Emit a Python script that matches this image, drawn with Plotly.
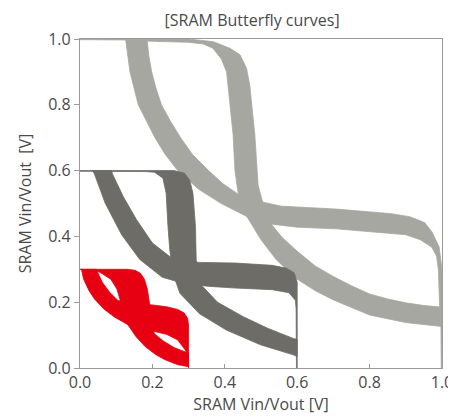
import plotly.graph_objects as go

# ---- data (Vin, Vout) ----
# Each supply voltage: envelope of the Monte-Carlo VTC band of one inverter
# (upper/outer edge and lower/inner edge).  The second inverter curve of the
# butterfly is the same band with Vin and Vout exchanged.

# 1.0 V supply (light grey)
v10_hi_x = [0.0, 0.30, 0.368, 0.414, 0.442, 0.460, 0.469, 0.474, 0.483, 0.492, 0.505, 0.515, 0.530,
            0.560, 0.600, 0.650, 0.700, 0.750, 0.800, 0.850, 0.900, 0.950, 1.0]
v10_hi_y = [1.0, 1.0, 0.992, 0.972, 0.952, 0.911, 0.860, 0.809, 0.708, 0.556, 0.500, 0.460, 0.435,
            0.395, 0.355, 0.310, 0.278, 0.250, 0.225, 0.210, 0.198, 0.190, 0.185]
v10_lo_x = [0.0, 0.13, 0.20, 0.30, 0.340, 0.367, 0.390, 0.405, 0.414, 0.423, 0.428, 0.437, 0.450,
            0.470, 0.500, 0.543, 0.600, 0.650, 0.700, 0.800, 0.900, 1.0]
v10_lo_y = [0.998, 0.997, 0.993, 0.990, 0.985, 0.972, 0.940, 0.900, 0.809, 0.708, 0.600, 0.531, 0.480,
            0.445, 0.390, 0.328, 0.270, 0.235, 0.207, 0.161, 0.138, 0.126]

# 0.6 V supply (dark grey)
v06_hi_x = [0.0, 0.26, 0.289, 0.303, 0.312, 0.319, 0.321, 0.325, 0.331, 0.380, 0.451, 0.520, 0.589, 0.600]
v06_hi_y = [0.6, 0.6, 0.592, 0.571, 0.531, 0.430, 0.330, 0.290, 0.257, 0.200, 0.156, 0.120, 0.090, 0.087]
v06_lo_x = [0.0, 0.18, 0.206, 0.229, 0.238, 0.243, 0.248, 0.256, 0.276, 0.330, 0.405, 0.500, 0.589, 0.600]
v06_lo_y = [0.598, 0.597, 0.595, 0.577, 0.531, 0.430, 0.359, 0.290, 0.227, 0.165, 0.115, 0.070, 0.040, 0.035]

# 0.3 V supply (red)
v03_hi_x = [0.0, 0.13, 0.152, 0.167, 0.178, 0.186, 0.191, 0.195, 0.199, 0.205, 0.230, 0.260, 0.285, 0.300]
v03_hi_y = [0.3, 0.3, 0.297, 0.288, 0.270, 0.240, 0.205, 0.170, 0.135, 0.105, 0.082, 0.062, 0.050, 0.045]
v03_lo_x = [0.0, 0.040, 0.056, 0.085, 0.102, 0.110, 0.118, 0.130, 0.155, 0.180, 0.210, 0.235, 0.270, 0.300]
v03_lo_y = [0.3, 0.298, 0.290, 0.270, 0.240, 0.210, 0.175, 0.135, 0.095, 0.065, 0.040, 0.025, 0.010, 0.004]

bands = [
    ("1.0 V", v10_hi_x, v10_hi_y, v10_lo_x, v10_lo_y, "#a7a7a2"),
    ("0.6 V", v06_hi_x, v06_hi_y, v06_lo_x, v06_lo_y, "#6d6c67"),
    ("0.3 V", v03_hi_x, v03_hi_y, v03_lo_x, v03_lo_y, "#e60012"),
]

tick_vals = [0.0, 0.2, 0.4, 0.6, 0.8, 1.0]
tick_text = ["0.0", "0.2", "0.4", "0.6", "0.8", "1.0"]

fig = go.Figure()
for name, hx, hy, lx, ly, col in bands:
    px = list(hx) + list(reversed(lx))
    py = list(hy) + list(reversed(ly))
    # inverter 1 : (Vin, Vout)
    fig.add_trace(go.Scatter(x=px, y=py, mode="lines", fill="toself", fillcolor=col,
                             line=dict(color=col, width=0.8), name=name, hoverinfo="skip"))
    # inverter 2 : mirrored (Vout, Vin)
    fig.add_trace(go.Scatter(x=py, y=px, mode="lines", fill="toself", fillcolor=col,
                             line=dict(color=col, width=0.8), name=name, hoverinfo="skip"))

font_family = "Open Sans, Noto Sans, sans-serif"
axis_col = "#9b9b9b"
text_col = "#4a4a4a"

# the page has an 8 px body margin, so the figure is 448 x 412
fig.update_layout(
    width=448, height=412,
    margin=dict(l=72, r=14, t=31, b=52, autoexpand=False),
    paper_bgcolor="white", plot_bgcolor="white",
    showlegend=False,
    font=dict(family=font_family, size=15, color=text_col),
    title=dict(text="[SRAM Butterfly curves]", x=0.545, xanchor="center",
               y=1 - 12 / 412, yanchor="middle", xref="container", yref="container",
               font=dict(family=font_family, size=16, color=text_col)),
    xaxis=dict(range=[0, 1], tickvals=tick_vals, ticktext=tick_text, automargin=False,
               ticks="inside", ticklen=4, tickcolor=axis_col, tickwidth=1,
               showline=True, linecolor=axis_col, linewidth=1.3, mirror=True,
               showgrid=False, zeroline=False,
               tickfont=dict(size=16, color=text_col),
               title=dict(text="SRAM Vin/Vout [V]", standoff=6,
                          font=dict(size=16, color=text_col))),
    yaxis=dict(range=[0, 1], tickvals=tick_vals, ticktext=tick_text, automargin=False,
               ticks="outside", ticklen=5, tickcolor=axis_col, tickwidth=1,
               showline=True, linecolor=axis_col, linewidth=1.3, mirror=True,
               showgrid=False, zeroline=False,
               tickfont=dict(size=16, color=text_col),
               title=dict(text="SRAM Vin/Vout\u00a0 [V]", standoff=12,
                          font=dict(size=16, color=text_col))),
)

fig.write_html("out.html")
